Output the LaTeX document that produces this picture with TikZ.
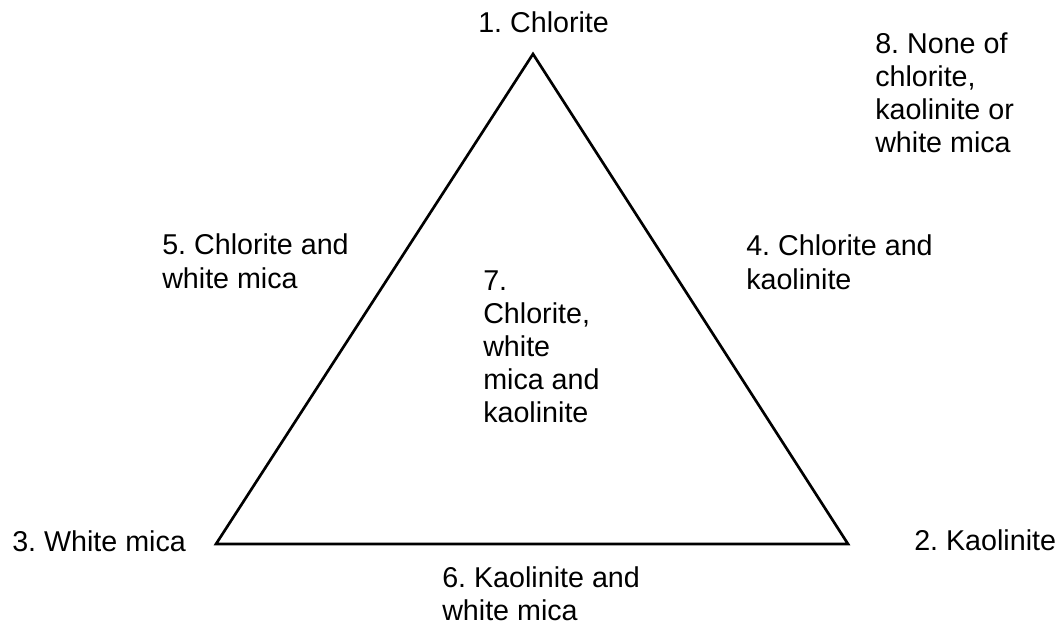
\documentclass[tikz,border=0pt]{standalone}
\usepackage{fontspec}
\setmainfont{Liberation Sans}
\frenchspacing

\begin{document}
\begin{tikzpicture}[x=0.75pt,y=0.75pt,yscale=-1,xscale=1,
  lbl/.style={anchor=base west,inner sep=0pt,align=left,font=\fontsize{21.5}{24.75}\selectfont}]
\useasboundingbox (0,0) rectangle (1063,627);
\coordinate (chl) at (533,54);
\coordinate (kao) at (848,544);
\coordinate (wm) at (216,544);
\draw[line width=2pt,line join=miter] (chl) -- (kao) -- (wm) -- cycle;
% Text Node
\node[lbl] (t1) at (478,33) {1. Chlorite};
% Text Node
\node[lbl] (t2) at (914,550) {2. Kaolinite};
% Text Node
\node[lbl] (t3) at (12,551) {3. White mica};
% Text Node
\node[lbl] (t4) at (746,289) {4. Chlorite and\\kaolinite};
% Text Node
\node[lbl] (t5) at (162,288) {5. Chlorite and\\white mica};
% Text Node
\node[lbl] (t6) at (442,620) {6. Kaolinite and\\white mica};
% Text Node
\node[lbl] (t7) at (483,422) {7.\\Chlorite,\\white\\mica and\\kaolinite};
% Text Node
\node[lbl] (t8) at (875,153) {8. None of\\chlorite,\\kaolinite or\\white mica};
\end{tikzpicture}
\end{document}
